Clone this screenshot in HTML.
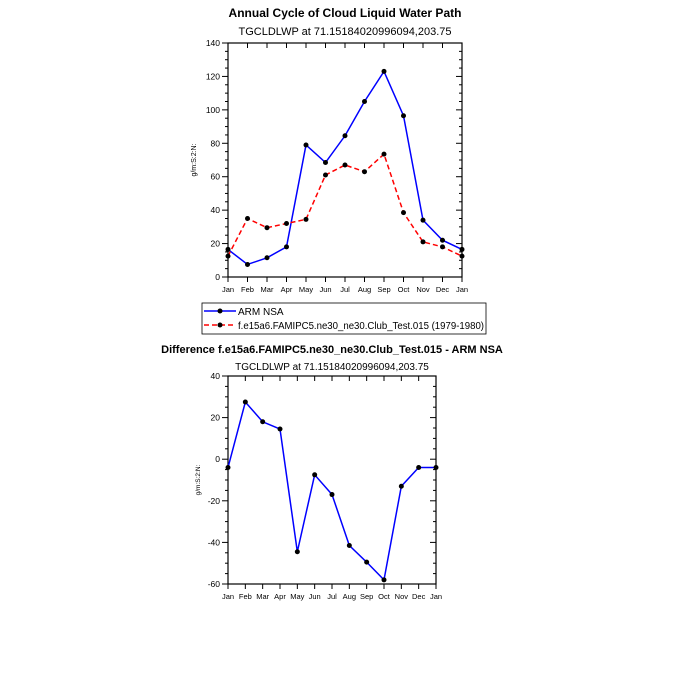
<!DOCTYPE html>
<html><head><meta charset="utf-8"><style>
body{margin:0;background:#fff;}
svg text{font-family:"Liberation Sans",Arial,sans-serif;}
</style></head><body>
<svg width="675" height="675" viewBox="0 0 675 675" xmlns="http://www.w3.org/2000/svg">
<rect width="675" height="675" fill="#fff"/>
<text x="345" y="17" font-size="12" font-weight="bold" text-anchor="middle">Annual Cycle of Cloud Liquid Water Path</text>
<text x="345" y="35" font-size="11" text-anchor="middle">TGCLDLWP at 71.15184020996094,203.75</text>
<text x="0" y="0" font-size="7" text-anchor="middle" transform="translate(196,160) rotate(-90)">g/m:S:2:N:</text>
<g id="top"></g>
<g>
<rect x="202" y="303" width="284" height="31" fill="#fff" stroke="#000" stroke-width="0.8"/>
<g>
<line x1="204" y1="311" x2="236" y2="311" stroke="#0000ff" stroke-width="1.5"/>
<circle cx="220" cy="311" r="2.5" fill="#000"/>
<text x="238" y="315" font-size="10">ARM NSA</text></g>
<g>
<line x1="204" y1="325" x2="236" y2="325" stroke="#ff0000" stroke-width="1.5" stroke-dasharray="5,3"/>
<circle cx="220" cy="325" r="2.5" fill="#000"/>
<text x="238" y="329" font-size="10" textLength="246" lengthAdjust="spacingAndGlyphs">f.e15a6.FAMIPC5.ne30_ne30.Club_Test.015 (1979-1980)</text></g>
</g>
<text x="332" y="353" font-size="11" font-weight="bold" text-anchor="middle">Difference f.e15a6.FAMIPC5.ne30_ne30.Club_Test.015 - ARM NSA</text>
<text x="332" y="370" font-size="10" text-anchor="middle">TGCLDLWP at 71.15184020996094,203.75</text>
<text x="0" y="0" font-size="6.5" text-anchor="middle" transform="translate(200,480) rotate(-90)">g/m:S:2:N:</text>
<g id="bot"></g>
</svg>
<script>
const months = ["Jan","Feb","Mar","Apr","May","Jun","Jul","Aug","Sep","Oct","Nov","Dec","Jan"];
const armValues = [16.5,7.5,11.5,18,79,68.5,84.5,105,123,96.5,34,22,16.5];
const modelValues = [12.5,35,29.5,32,34.5,61,67,63,73.5,38.5,21,18,12.5];
const diffValues = [-4,27.5,18,14.5,-44.5,-7.5,-17,-41.5,-49.5,-58,-13,-4,-4];
const topTicks = [0,20,40,60,80,100,120,140];
const botTicks = [-60,-40,-20,0,20,40];
const NS="http://www.w3.org/2000/svg";
function mk(p,tag,at){const e=document.createElementNS(NS,tag);for(const k in at)e.setAttribute(k,at[k]);p.appendChild(e);return e;}
function plot(g,L,R,T,B,ymin,ymax,ticks,series,pre){
  const xs=i=>L+(R-L)*i/(months.length-1);
  const ys=v=>B-(B-T)*(v-ymin)/(ymax-ymin);
  const minorStep=(ticks[1]-ticks[0])/4;
  for(let v=ymin;v<=ymax+0.01;v+=minorStep){
    const major=Math.abs((v-ticks[0])%(ticks[1]-ticks[0]))<0.01;
    const len=major?6:3;
    mk(g,'line',{x1:L-len,x2:L,y1:ys(v),y2:ys(v),stroke:'#000','stroke-width':1});
    mk(g,'line',{x1:R-len,x2:R,y1:ys(v),y2:ys(v),stroke:'#000','stroke-width':1});
  }
  ticks.forEach(v=>{
    const t=mk(g,'text',{x:L-8,y:ys(v)+3,'font-size':8.5,'text-anchor':'end'});
    t.textContent=v;
    
    
  });
  months.forEach((m,i)=>{
    mk(g,'line',{x1:xs(i),x2:xs(i),y1:B,y2:B+5,stroke:'#000','stroke-width':1});
    mk(g,'line',{x1:xs(i),x2:xs(i),y1:T,y2:T+5,stroke:'#000','stroke-width':1});
    const t=mk(g,'text',{x:xs(i),y:B+15,'font-size':7.5,'text-anchor':'middle'});
    t.textContent=m;
    
    
  });
  const fr=mk(g,'rect',{x:L,y:T,width:R-L,height:B-T,fill:'none',stroke:'#000','stroke-width':1.2});
  
  
  series.forEach(s=>{
    const pl=mk(g,'polyline',{points:s.v.map((v,i)=>xs(i)+','+ys(v)).join(' '),fill:'none',stroke:s.c,'stroke-width':1.5});
    if(s.d)pl.setAttribute('stroke-dasharray',s.d);
    
    
    s.v.forEach((v,i)=>{
      const c=mk(g,'circle',{cx:xs(i),cy:ys(v),r:2.5,fill:'#000'});
      
      
    });
  });
}
plot(document.getElementById('top'),228,462,43,277,0,140,topTicks,
 [{v:armValues,c:'#0000ff',n:'arm'},{v:modelValues,c:'#ff0000',d:'5,3',n:'model'}],'top');
plot(document.getElementById('bot'),228,436,376,584,-60,40,botTicks,
 [{v:diffValues,c:'#0000ff',n:'diff'}],'bottom');
</script>
</body></html>
